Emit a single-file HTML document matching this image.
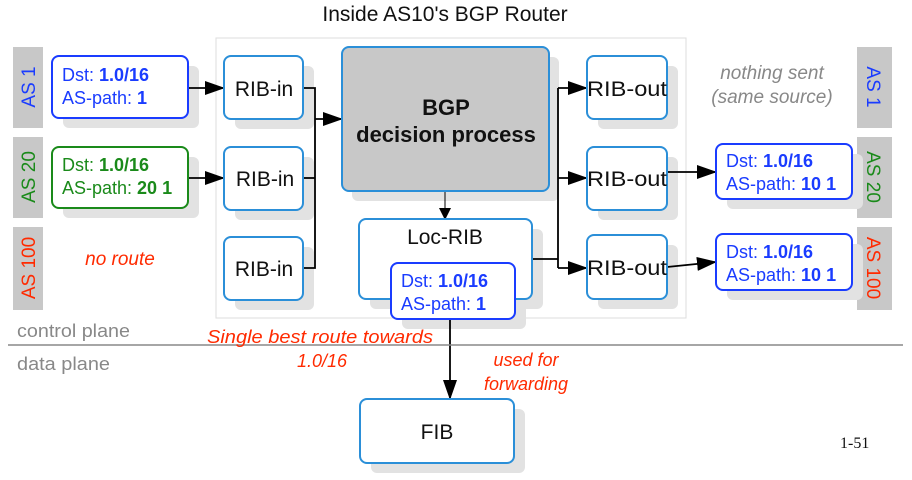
<!DOCTYPE html>
<html><head><meta charset="utf-8"><style>
html,body{margin:0;padding:0;background:#fff;}
svg{display:block;font-family:"Liberation Sans",Arial,sans-serif;}
</style></head><body>
<svg width="912" height="480" viewBox="0 0 912 480" xmlns="http://www.w3.org/2000/svg">
<defs>
<marker id="ah" markerWidth="12" markerHeight="12" refX="11" refY="6" orient="auto" markerUnits="userSpaceOnUse">
<path d="M0,0 L12,6 L0,12 z" fill="#000"/></marker>
<marker id="ahs" markerWidth="20" markerHeight="14" refX="19" refY="7" orient="auto" markerUnits="userSpaceOnUse">
<path d="M0,0 L20,7 L0,14 z" fill="#000"/></marker>
</defs>
<text x="445" y="21" font-size="21" text-anchor="middle" fill="#111">Inside AS10's BGP Router</text>
<rect x="216" y="38" width="470" height="280" fill="none" stroke="#ddd" stroke-width="1"/>
<rect x="13" y="47" width="30" height="81" fill="#c8c8c8"/>
<rect x="13" y="137" width="30" height="81" fill="#c8c8c8"/>
<rect x="13" y="227" width="30" height="83" fill="#c8c8c8"/>
<text transform="translate(35,87) rotate(-90)" font-size="19" text-anchor="middle" fill="#1a3cff">AS 1</text>
<text transform="translate(35,177) rotate(-90)" font-size="19" text-anchor="middle" fill="#1a8a1a">AS 20</text>
<text transform="translate(35,268) rotate(-90)" font-size="19" text-anchor="middle" fill="#ff2a00">AS 100</text>
<rect x="857" y="47" width="35" height="81" fill="#c8c8c8"/>
<rect x="857" y="137" width="35" height="81" fill="#c8c8c8"/>
<rect x="857" y="227" width="35" height="83" fill="#c8c8c8"/>
<text transform="translate(867,87) rotate(90)" font-size="19" text-anchor="middle" fill="#1a3cff">AS 1</text>
<text transform="translate(867,177) rotate(90)" font-size="19" text-anchor="middle" fill="#1a8a1a">AS 20</text>
<text transform="translate(867,268) rotate(90)" font-size="19" text-anchor="middle" fill="#ff2a00">AS 100</text>
<g fill="#e2e2e2">
<rect x="63" y="66" width="136" height="62" rx="6"/>
<rect x="63" y="157" width="136" height="61" rx="6"/>
<rect x="235" y="66" width="79" height="63" rx="6"/>
<rect x="235" y="157" width="79" height="63" rx="6"/>
<rect x="235" y="247" width="79" height="63" rx="6"/>
<rect x="352" y="57" width="207" height="144" rx="6"/>
<rect x="370" y="229" width="173" height="80" rx="6"/>
<rect x="402" y="273" width="124" height="56" rx="6"/>
<rect x="598" y="66" width="80" height="63" rx="6"/>
<rect x="598" y="157" width="80" height="63" rx="6"/>
<rect x="598" y="245" width="80" height="64" rx="6"/>
<rect x="727" y="154" width="136" height="55" rx="6"/>
<rect x="727" y="244" width="136" height="56" rx="6"/>
<rect x="371" y="409" width="154" height="64" rx="6"/>
</g>
<g stroke="#000" stroke-width="1.8" fill="none">
<line x1="188" y1="88" x2="224" y2="88" marker-end="url(#ahs)"/>
<line x1="188" y1="178" x2="224" y2="178" marker-end="url(#ahs)"/>
<polyline points="303,88 315,88 315,268 303,268"/>
<line x1="303" y1="178" x2="315" y2="178"/>
<line x1="315" y1="119" x2="342" y2="119" marker-end="url(#ahs)"/>
<line x1="445" y1="191" x2="445" y2="219" stroke-width="1" marker-end="url(#ah)"/>
<polyline points="532,259 558,259"/>
<line x1="558" y1="88" x2="558" y2="268"/>
<line x1="558" y1="88" x2="587" y2="88" marker-end="url(#ahs)"/>
<line x1="558" y1="178" x2="587" y2="178" marker-end="url(#ahs)"/>
<line x1="558" y1="268" x2="587" y2="268" marker-end="url(#ahs)"/>
<line x1="667" y1="172" x2="716" y2="172" marker-end="url(#ahs)"/>
<line x1="667" y1="267" x2="716" y2="262" marker-end="url(#ahs)"/>
<line x1="450" y1="319" x2="450" y2="399" marker-end="url(#ahs)"/>
</g>
<rect x="52" y="56" width="136" height="62" rx="7" fill="#fff" stroke="#1a3cff" stroke-width="2"/>
<text x="62" y="81" font-size="18" fill="#1a3cff">Dst: <tspan font-weight="bold">1.0/16</tspan></text>
<text x="62" y="104" font-size="18" fill="#1a3cff">AS-path: <tspan font-weight="bold">1</tspan></text>
<rect x="52" y="147" width="136" height="61" rx="7" fill="#fff" stroke="#1a8a1a" stroke-width="2"/>
<text x="62" y="171" font-size="18" fill="#1a8a1a">Dst: <tspan font-weight="bold">1.0/16</tspan></text>
<text x="62" y="194" font-size="18" fill="#1a8a1a">AS-path: <tspan font-weight="bold">20 1</tspan></text>
<text x="120" y="265" font-size="19" font-style="italic" fill="#ff2a00" text-anchor="middle">no route</text>
<g fill="#fff" stroke="#2b8fd8" stroke-width="2">
<rect x="224" y="56" width="79" height="63" rx="7"/>
<rect x="224" y="147" width="79" height="63" rx="7"/>
<rect x="224" y="237" width="79" height="63" rx="7"/>
<rect x="587" y="56" width="80" height="63" rx="7"/>
<rect x="587" y="147" width="80" height="63" rx="7"/>
<rect x="587" y="235" width="80" height="64" rx="7"/>
<rect x="359" y="219" width="173" height="80" rx="7"/>
<rect x="360" y="399" width="154" height="64" rx="7"/>
</g>
<g font-size="21" fill="#111" text-anchor="middle">
<text x="264" y="96">RIB-in</text>
<text x="265" y="186">RIB-in</text>
<text x="264" y="276">RIB-in</text>
<text x="627" y="96" textLength="80" lengthAdjust="spacingAndGlyphs">RIB-out</text>
<text x="627" y="186" textLength="80" lengthAdjust="spacingAndGlyphs">RIB-out</text>
<text x="627" y="275" textLength="80" lengthAdjust="spacingAndGlyphs">RIB-out</text>
<text x="445" y="244">Loc-RIB</text>
<text x="437" y="439">FIB</text>
</g>
<rect x="342" y="47" width="207" height="144" rx="7" fill="#c8c8c8" stroke="#2b8fd8" stroke-width="2"/>
<text x="446" y="115" font-size="22" font-weight="bold" text-anchor="middle" fill="#111">BGP</text>
<text x="446" y="142" font-size="22" font-weight="bold" text-anchor="middle" fill="#111">decision process</text>
<rect x="391" y="263" width="124" height="56" rx="7" fill="#fff" stroke="#1a3cff" stroke-width="2"/>
<text x="401" y="287" font-size="18" fill="#1a3cff">Dst: <tspan font-weight="bold">1.0/16</tspan></text>
<text x="401" y="310" font-size="18" fill="#1a3cff">AS-path: <tspan font-weight="bold">1</tspan></text>
<text x="772" y="79" font-size="19" font-style="italic" fill="#888" text-anchor="middle">nothing sent</text>
<text x="772" y="103" font-size="19" font-style="italic" fill="#888" text-anchor="middle">(same source)</text>
<rect x="716" y="144" width="136" height="55" rx="7" fill="#fff" stroke="#1a3cff" stroke-width="2"/>
<text x="726" y="167" font-size="18" fill="#1a3cff">Dst: <tspan font-weight="bold">1.0/16</tspan></text>
<text x="726" y="190" font-size="18" fill="#1a3cff">AS-path: <tspan font-weight="bold">10 1</tspan></text>
<rect x="716" y="234" width="136" height="56" rx="7" fill="#fff" stroke="#1a3cff" stroke-width="2"/>
<text x="726" y="258" font-size="18" fill="#1a3cff">Dst: <tspan font-weight="bold">1.0/16</tspan></text>
<text x="726" y="281" font-size="18" fill="#1a3cff">AS-path: <tspan font-weight="bold">10 1</tspan></text>
<line x1="8" y1="345" x2="903" y2="345" stroke="#888" stroke-width="1.5"/>
<text x="17" y="337" font-size="18" fill="#888" textLength="113" lengthAdjust="spacingAndGlyphs">control plane</text>
<text x="17" y="370" font-size="18" fill="#888" textLength="93" lengthAdjust="spacingAndGlyphs">data plane</text>
<text x="320" y="343" font-size="18" font-style="italic" fill="#ff2a00" text-anchor="middle" textLength="226" lengthAdjust="spacingAndGlyphs">Single best route towards</text>
<text x="322" y="367" font-size="18" font-style="italic" fill="#ff2a00" text-anchor="middle">1.0/16</text>
<text x="526" y="366" font-size="18" font-style="italic" fill="#ff2a00" text-anchor="middle">used for</text>
<text x="526" y="390" font-size="18" font-style="italic" fill="#ff2a00" text-anchor="middle">forwarding</text>
<text x="840" y="448" font-size="16" font-family="Liberation Serif,serif" fill="#111">1-51</text>
</svg>
</body></html>
